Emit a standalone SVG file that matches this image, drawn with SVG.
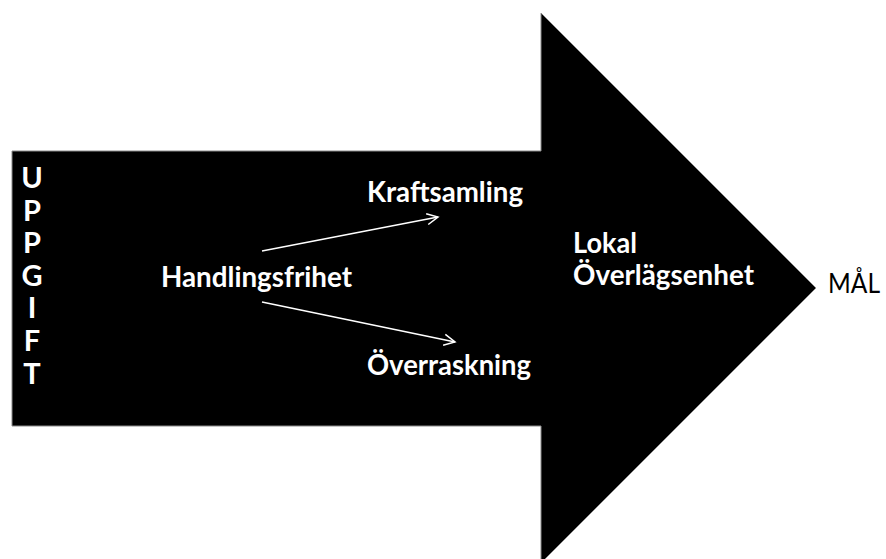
<svg xmlns="http://www.w3.org/2000/svg" width="886" height="559" viewBox="0 0 886 559">
  <style>
    .lbl { font-family: Lato, "Open Sans", "Liberation Sans", sans-serif; font-weight: bold; font-size: 28px; fill: #ffffff; }
    .vert { font-family: Lato, "Open Sans", "Liberation Sans", sans-serif; font-weight: bold; font-size: 29px; fill: #ffffff; text-anchor: middle; }
    .goal { font-family: Lato, "Open Sans", "Liberation Sans", sans-serif; font-weight: normal; font-size: 27px; fill: #000000; }
    .conn { stroke: #ffffff; stroke-width: 1.5; fill: none; }
  </style>
  <defs>
    <marker id="open" markerUnits="userSpaceOnUse" markerWidth="14" markerHeight="14" viewBox="0 0 14 14" refX="12" refY="7" orient="auto">
      <path d="M1,1.5 L12,7 L1,12.5" fill="none" stroke="#ffffff" stroke-width="1.5"/>
    </marker>
  </defs>
  <rect width="886" height="559" fill="#ffffff"/>

  <g id="big-arrow">
    <path d="M12,151 H541 V13 L816,288 L541,563 V426 H12 Z" fill="#000000" stroke="#8a8a8a" stroke-width="1"/>
  </g>

  <g id="uppgift">
    <text class="vert" x="32" y="188">U</text>
    <text class="vert" x="32" y="221">P</text>
    <text class="vert" x="32" y="253">P</text>
    <text class="vert" x="32" y="286">G</text>
    <text class="vert" x="32" y="318">I</text>
    <text class="vert" x="32" y="351">F</text>
    <text class="vert" x="32" y="384">T</text>
  </g>

  <g id="handlingsfrihet">
    <text class="lbl" x="161" y="287" textLength="191" lengthAdjust="spacingAndGlyphs">Handlingsfrihet</text>
  </g>
  <g id="kraftsamling">
    <text class="lbl" x="367" y="202" textLength="156" lengthAdjust="spacingAndGlyphs">Kraftsamling</text>
  </g>
  <g id="overraskning">
    <text class="lbl" x="367" y="375" textLength="164" lengthAdjust="spacingAndGlyphs">Överraskning</text>
  </g>
  <g id="lokal-overlagsenhet">
    <text class="lbl" x="573" y="253" textLength="64" lengthAdjust="spacingAndGlyphs">Lokal</text>
    <text class="lbl" x="573" y="285" textLength="181" lengthAdjust="spacingAndGlyphs">Överlägsenhet</text>
  </g>
  <g id="mal">
    <text class="goal" x="828" y="293" textLength="52" lengthAdjust="spacingAndGlyphs">MÅL</text>
  </g>

  <g id="connectors">
    <line class="conn" x1="262" y1="251" x2="438" y2="217" marker-end="url(#open)"/>
    <line class="conn" x1="262" y1="302" x2="455" y2="342" marker-end="url(#open)"/>
  </g>
</svg>
